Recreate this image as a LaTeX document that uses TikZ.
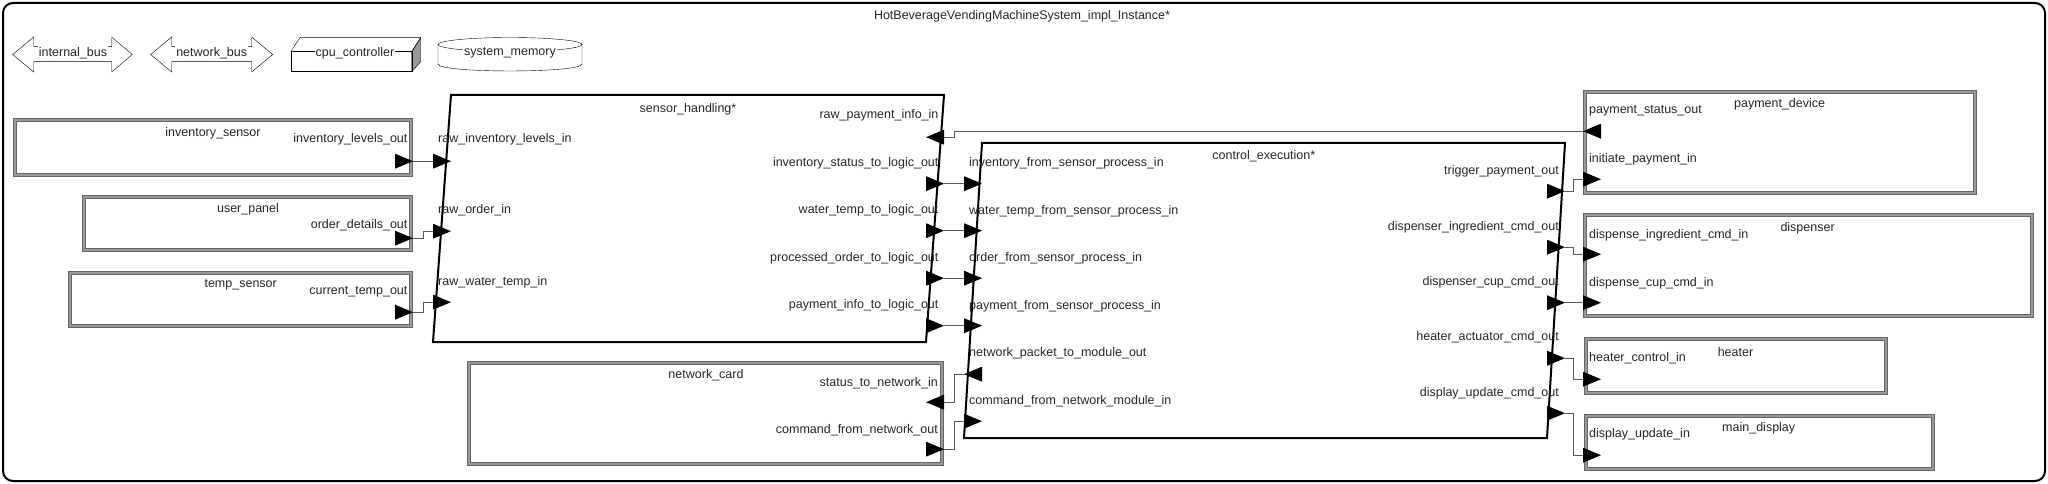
\documentclass[tikz,border=0pt]{standalone}
\usepackage{fontspec}
\setmainfont{Liberation Sans}

\begin{document}
\begin{tikzpicture}[x=1pt,y=-1pt,font=\fontsize{12.5}{15}\selectfont,
    every node/.style={inner sep=0pt,text=black!85,yshift=-1.2pt},
    block/.style={line width=2pt},
    device/.style={draw=black!60,double=black!40,double distance=2.2pt,line width=.8pt,fill=white},
    wire/.style={draw=black!65,line width=.9pt},
    tag/.style={fill=white,inner sep=1pt}]
  \useasboundingbox (0,0) rectangle (2048,484);
  % frame
  \draw[line width=2pt,rounded corners=10pt] (3,3) rectangle (2045,481);
  \node (title) at (1022,15) {HotBeverageVendingMachineSystem\_impl\_Instance*};

  % buses, processor, memory
  \draw (12.7,54.5) -- (33.7,37) -- (33.7,46.7) -- (111.7,46.7) -- (111.7,37) -- (132.3,54.5)
     -- (111.7,72) -- (111.7,61.7) -- (33.7,61.7) -- (33.7,72) -- cycle;
  \node[tag] (internalBus) at (73,52) {internal\_bus};
  \draw (150.7,54.5) -- (171.7,37) -- (171.7,46.7) -- (251.7,46.7) -- (251.7,37) -- (272.7,54.5)
     -- (251.7,72) -- (251.7,61.7) -- (171.7,61.7) -- (171.7,72) -- cycle;
  \node[tag] (networkBus) at (211.7,52) {network\_bus};
  \draw[fill=black!40] (411.7,51.7) -- (420.7,37.7) -- (420.7,61.7) -- (411.7,71.7) -- cycle;
  \draw (290.7,51.7) -- (300,37.7) -- (420.7,37.7) -- (411.7,51.7);
  \draw (290.7,51.7) rectangle (411.7,71.7);
  \node[tag] (cpu) at (355,51.7) {cpu\_controller};
  \draw (510,44.5) ellipse (72pt and 7pt);
  \draw (438,44.5) -- (438,64) .. controls (438,73.3) and (582,73.3) .. (582,64) -- (582,44.5);
  \node[tag] (memory) at (510,51.7) {system\_memory};

  % inventory_sensor
  \draw[device] (15,120) rectangle (411,175);
  \node (invSensor) at (213,131.7) {inventory\_sensor};
  \node[anchor=east] (invLevelsLbl) at (407.6,138.3) {inventory\_levels\_out};
  \coordinate (invLevelsOut) at (413,160);
  \fill (invLevelsOut) -- ++(-18,-7.5) -- ++(0,15) -- cycle;
  % user_panel
  \draw[device] (84,197) rectangle (411,250);
  \node (userPanel) at (248,208) {user\_panel};
  \node[anchor=east] (orderLbl) at (407.6,224) {order\_details\_out};
  \coordinate (orderOut) at (413,237);
  \fill (orderOut) -- ++(-18,-7.5) -- ++(0,15) -- cycle;
  % temp_sensor
  \draw[device] (70,273) rectangle (411,326);
  \node (tempSensor) at (240.7,284) {temp\_sensor};
  \node[anchor=east] (tempLbl) at (407.6,290.7) {current\_temp\_out};
  \coordinate (tempOut) at (413,311);
  \fill (tempOut) -- ++(-18,-7.5) -- ++(0,15) -- cycle;

  % sensor_handling
  \draw[block] (451,95) -- (944,95) -- (926,342) -- (433,342) -- cycle;
  \node (sensorHandling) at (688,108.3) {sensor\_handling*};
  \node[anchor=west] (rawInvLbl) at (438,138.3) {raw\_inventory\_levels\_in};
  \node[anchor=west] (rawOrderLbl) at (438,209.3) {raw\_order\_in};
  \node[anchor=west] (rawWaterLbl) at (438,281) {raw\_water\_temp\_in};
  \node[anchor=east] (rawPayLbl) at (938.6,114.3) {raw\_payment\_info\_in};
  \node[anchor=east] (invStatusLbl) at (938.6,161.7) {inventory\_status\_to\_logic\_out};
  \node[anchor=east] (waterTempLbl) at (938.6,209.3) {water\_temp\_to\_logic\_out};
  \node[anchor=east] (procOrderLbl) at (938.6,256.7) {processed\_order\_to\_logic\_out};
  \node[anchor=east] (payInfoLbl) at (938.6,304.3) {payment\_info\_to\_logic\_out};
  \coordinate (rawInvIn) at (433,160);
  \coordinate (rawOrderIn) at (433,230);
  \coordinate (rawWaterIn) at (433,301);
  \coordinate (rawPayIn) at (944,136);
  \coordinate (invStatusOut) at (944,182.5);
  \coordinate (waterTempOut) at (944,229.5);
  \coordinate (procOrderOut) at (944,277);
  \coordinate (payInfoOut) at (944,324.5);
  \fill (rawInvIn) -- ++(0,-7.5) -- ++(18,7.5) -- ++(-18,7.5) -- cycle;
  \fill (rawOrderIn) -- ++(0,-7.5) -- ++(18,7.5) -- ++(-18,7.5) -- cycle;
  \fill (rawWaterIn) -- ++(0,-7.5) -- ++(18,7.5) -- ++(-18,7.5) -- cycle;
  \fill (rawPayIn) -- ++(0,-7.5) -- ++(-18,7.5) -- ++(18,7.5) -- cycle;
  \fill (invStatusOut) -- ++(-18,-7.5) -- ++(0,15) -- cycle;
  \fill (waterTempOut) -- ++(-18,-7.5) -- ++(0,15) -- cycle;
  \fill (procOrderOut) -- ++(-18,-7.5) -- ++(0,15) -- cycle;
  \fill (payInfoOut) -- ++(-18,-7.5) -- ++(0,15) -- cycle;

  % network_card
  \draw[device] (469,363) rectangle (942,464);
  \node (networkCard) at (706,374.3) {network\_card};
  \node[anchor=east] (statusNetLbl) at (938,381.7) {status\_to\_network\_in};
  \node[anchor=east] (cmdNetLbl) at (938,429.3) {command\_from\_network\_out};
  \coordinate (statusNetIn) at (944,401);
  \coordinate (cmdNetOut) at (944,448);
  \fill (statusNetIn) -- ++(0,-7.5) -- ++(-18,7.5) -- ++(18,7.5) -- cycle;
  \fill (cmdNetOut) -- ++(-18,-7.5) -- ++(0,15) -- cycle;

  % control_execution
  \draw[block] (982,143) -- (1565,143) -- (1547,438) -- (964,438) -- cycle;
  \node (controlExec) at (1263.8,155) {control\_execution*};
  \node[anchor=west] (invFromLbl) at (969,162.3) {inventory\_from\_sensor\_process\_in};
  \node[anchor=west] (waterFromLbl) at (969,210) {water\_temp\_from\_sensor\_process\_in};
  \node[anchor=west] (orderFromLbl) at (969,257.3) {order\_from\_sensor\_process\_in};
  \node[anchor=west] (payFromLbl) at (969,305) {payment\_from\_sensor\_process\_in};
  \node[anchor=west] (netPacketLbl) at (969,352.3) {network\_packet\_to\_module\_out};
  \node[anchor=west] (cmdFromNetLbl) at (969,400) {command\_from\_network\_module\_in};
  \node[anchor=east] (triggerPayLbl) at (1559,170) {trigger\_payment\_out};
  \node[anchor=east] (dispIngLbl) at (1559,226) {dispenser\_ingredient\_cmd\_out};
  \node[anchor=east] (dispCupLbl) at (1559,281) {dispenser\_cup\_cmd\_out};
  \node[anchor=east] (heaterActLbl) at (1559,336.3) {heater\_actuator\_cmd\_out};
  \node[anchor=east] (displayUpdLbl) at (1559,392.3) {display\_update\_cmd\_out};
  \coordinate (invFromIn) at (964,182.5);
  \coordinate (waterFromIn) at (964,229.5);
  \coordinate (orderFromIn) at (964,277);
  \coordinate (payFromIn) at (964,324.5);
  \coordinate (netPacketOut) at (964,373);
  \coordinate (cmdFromNetIn) at (964,420);
  \coordinate (triggerPayOut) at (1565,190);
  \coordinate (dispIngOut) at (1565,246);
  \coordinate (dispCupOut) at (1565,301.5);
  \coordinate (heaterActOut) at (1565,357);
  \coordinate (displayUpdOut) at (1565,412);
  \fill (invFromIn) -- ++(0,-7.5) -- ++(18,7.5) -- ++(-18,7.5) -- cycle;
  \fill (waterFromIn) -- ++(0,-7.5) -- ++(18,7.5) -- ++(-18,7.5) -- cycle;
  \fill (orderFromIn) -- ++(0,-7.5) -- ++(18,7.5) -- ++(-18,7.5) -- cycle;
  \fill (payFromIn) -- ++(0,-7.5) -- ++(18,7.5) -- ++(-18,7.5) -- cycle;
  \fill (netPacketOut) -- ++(18,-7.5) -- ++(0,15) -- cycle;
  \fill (cmdFromNetIn) -- ++(0,-7.5) -- ++(18,7.5) -- ++(-18,7.5) -- cycle;
  \fill (triggerPayOut) -- ++(-18,-7.5) -- ++(0,15) -- cycle;
  \fill (dispIngOut) -- ++(-18,-7.5) -- ++(0,15) -- cycle;
  \fill (dispCupOut) -- ++(-18,-7.5) -- ++(0,15) -- cycle;
  \fill (heaterActOut) -- ++(-18,-7.5) -- ++(0,15) -- cycle;
  \fill (displayUpdOut) -- ++(-18,-7.5) -- ++(0,15) -- cycle;

  % payment_device
  \draw[device] (1585,92) rectangle (1975,193);
  \node (paymentDevice) at (1779.6,103.3) {payment\_device};
  \node[anchor=west] (payStatusLbl) at (1589,110) {payment\_status\_out};
  \node[anchor=west] (initPayLbl) at (1589,157.7) {initiate\_payment\_in};
  \coordinate (payStatusOut) at (1583,130);
  \coordinate (initPayIn) at (1583,178);
  \fill (payStatusOut) -- ++(18,-7.5) -- ++(0,15) -- cycle;
  \fill (initPayIn) -- ++(0,-7.5) -- ++(18,7.5) -- ++(-18,7.5) -- cycle;
  % dispenser
  \draw[device] (1585,215) rectangle (2032,316);
  \node (dispenser) at (1807.6,226.7) {dispenser};
  \node[anchor=west] (dispIngInLbl) at (1589,234) {dispense\_ingredient\_cmd\_in};
  \node[anchor=west] (dispCupInLbl) at (1589,281.7) {dispense\_cup\_cmd\_in};
  \coordinate (dispIngIn) at (1583,253);
  \coordinate (dispCupIn) at (1583,301.5);
  \fill (dispIngIn) -- ++(0,-7.5) -- ++(18,7.5) -- ++(-18,7.5) -- cycle;
  \fill (dispCupIn) -- ++(0,-7.5) -- ++(18,7.5) -- ++(-18,7.5) -- cycle;
  % heater
  \draw[device] (1586,339) rectangle (1886,393);
  \node (heater) at (1735.5,350.7) {heater};
  \node[anchor=west] (heaterCtrlLbl) at (1589,356.7) {heater\_control\_in};
  \coordinate (heaterCtrlIn) at (1583,378);
  \fill (heaterCtrlIn) -- ++(0,-7.5) -- ++(18,7.5) -- ++(-18,7.5) -- cycle;
  % main_display
  \draw[device] (1586,416) rectangle (1933,469);
  \node (mainDisplay) at (1758.7,427.3) {main\_display};
  \node[anchor=west] (displayUpdInLbl) at (1589,433.3) {display\_update\_in};
  \coordinate (displayUpdIn) at (1583,454);
  \fill (displayUpdIn) -- ++(0,-7.5) -- ++(18,7.5) -- ++(-18,7.5) -- cycle;

  % connections
  \draw[wire] (invLevelsOut) -- (rawInvIn);
  \draw[wire] (orderOut) -- ++(10,0) |- (rawOrderIn);
  \draw[wire] (tempOut) -- ++(10,0) |- (rawWaterIn);
  \draw[wire] (payStatusOut) -| ([xshift=10pt]rawPayIn) -- (rawPayIn);
  \draw[wire] (invStatusOut) -- (invFromIn);
  \draw[wire] (waterTempOut) -- (waterFromIn);
  \draw[wire] (procOrderOut) -- (orderFromIn);
  \draw[wire] (payInfoOut) -- (payFromIn);
  \draw[wire] (netPacketOut) -- ++(-10,0) |- (statusNetIn);
  \draw[wire] (cmdNetOut) -- ++(10,0) |- (cmdFromNetIn);
  \draw[wire] (triggerPayOut) -- ++(8,0) |- (initPayIn);
  \draw[wire] (dispIngOut) -- ++(8,0) |- (dispIngIn);
  \draw[wire] (dispCupOut) -- (dispCupIn);
  \draw[wire] (heaterActOut) -- ++(8,0) |- (heaterCtrlIn);
  \draw[wire] (displayUpdOut) -- ++(8,0) |- (displayUpdIn);
\end{tikzpicture}
\end{document}
